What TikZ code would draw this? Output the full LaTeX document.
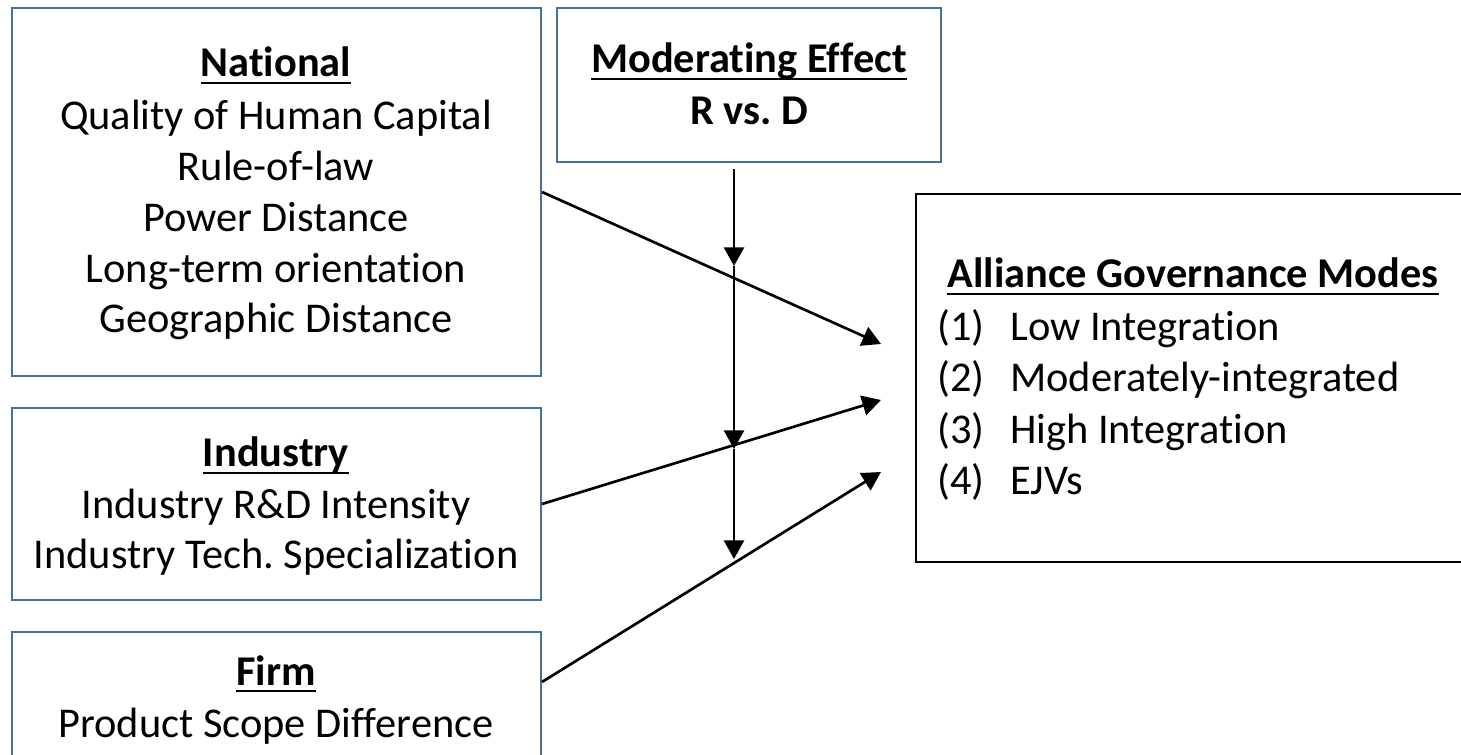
\documentclass[tikz,border=0pt]{standalone}
\usepackage{fontspec}
\setmainfont[Ligatures=TeX,RawFeature={-liga;-clig;-calt;-dlig}]{Carlito}
\usetikzlibrary{arrows.meta,fit,calc}
\definecolor{boxblue}{RGB}{65,113,156}
\newcommand\myul[1]{\setbox0\hbox{#1}\rlap{\rule[-5.6pt]{\wd0}{2pt}}\box0}
\frenchspacing
\begin{document}
\begin{tikzpicture}[x=0.75pt,y=-0.75pt,
  bluebox/.style={draw=boxblue,line width=1.6pt,inner sep=0pt},
  blackbox/.style={draw=black,line width=1.6pt,inner sep=0pt},
  txt/.style={font=\fontsize{31.8}{38}\selectfont,inner sep=0pt,anchor=base},
  ltxt/.style={txt,anchor=base west},
  arr/.style={-{Triangle[length=14pt,width=15pt]},line width=2pt}]
\useasboundingbox (0,0) rectangle (1461,755);
\begin{scope}
\clip (0,0) rectangle (1461,755);
% boxes
\node[bluebox,fit={(12,8) (541,376)}] (nat) {};
\node[bluebox,fit={(557,8) (941,162)}] (mod) {};
\node[bluebox,fit={(12,408) (541,600)}] (ind) {};
\node[bluebox,fit={(12,632) (541,820)}] (firm) {};
\node[blackbox,fit={(916,194) (1520,562)}] (gov) {};
% national
\node[txt] (t1) at (276,77) {\textbf{\myul{National}}};
\node[txt] (t2) at (276,130) {Quality of Human Capital};
\node[txt] (t3) at (276,181) {Rule-of-law};
\node[txt] (t4) at (276,232) {Power Distance};
\node[txt] (t5) at (276,283) {Long-term orientation};
\node[txt] (t6) at (276,333) {Geographic Distance};
% moderating
\node[txt] (m1) at (749,73) {\textbf{\myul{Moderating Effect}}};
\node[txt] (m2) at (749,125) {\textbf{R vs. D}};
% industry
\node[txt] (i1) at (276,467) {\textbf{\myul{Industry}}};
\node[txt] (i2) at (276,518) {Industry R\&D Intensity};
\node[txt] (i3) at (276,569) {Industry Tech. Specialization};
% firm
\node[txt] (f1) at (276,685) {\textbf{\myul{Firm}}};
\node[txt] (f2) at (276,737) {Product Scope Difference};
% governance
\node[txt] (g0) at (1193,288) {\textbf{\myul{Alliance Governance Modes}}};
\node[ltxt] (n1) at (937,341) {(1)};
\node[ltxt] (n2) at (937,392) {(2)};
\node[ltxt] (n3) at (937,444) {(3)};
\node[ltxt] (n4) at (937,495) {(4)};
\node[ltxt] (g1) at (1010,341) {Low Integration};
\node[ltxt] (g2) at (1010,392) {Moderately-integrated};
\node[ltxt] (g3) at (1010,444) {High Integration};
\node[ltxt] (g4) at (1010,495) {EJVs};
% connectors
\coordinate (e1) at (881,344);
\coordinate (e2) at (881,400);
\coordinate (e3) at (881,472);
\coordinate (v0) at (734,169);
\coordinate (v1) at (734,266);
\coordinate (v2) at (734,449);
\coordinate (v3) at (734,559);
\draw[arr] (nat.east) -- (e1);
\draw[arr] (ind.east) -- (e2);
\draw[arr] ($(firm.north east)+(0,51)$) -- (e3);
\draw[arr] (v0) -- (v1);
\draw[arr] (v1) -- (v2);
\draw[arr] (v2) -- (v3);
\end{scope}
\end{tikzpicture}
\end{document}
